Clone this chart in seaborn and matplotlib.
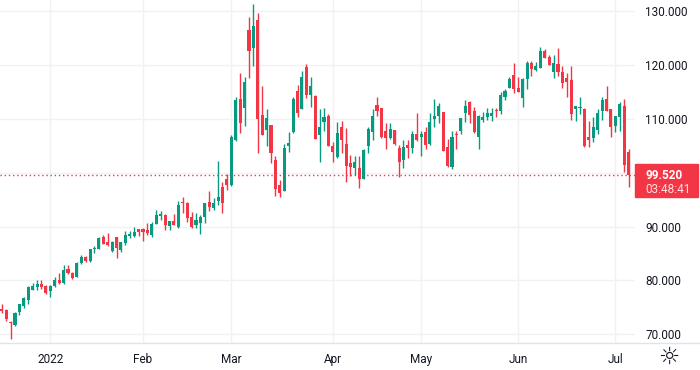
import numpy as np
import pandas as pd
import seaborn as sns
import matplotlib.pyplot as plt
from matplotlib.patches import Rectangle

# daily candles, 17 Dec 2021 -> 6 Jul 2022 (Good Friday closed)
opens = [74.6, 74.5, 72.3, 71.7, 74.2, 75.3, 76.3, 78.3, 78.8, 79.4, 79.0,
         78.1, 79.0, 80.0, 79.5, 82.1, 81.3, 80.7, 83.3, 84.3, 83.6, 85.8, 85.9, 88.1, 87.2, 85.5, 88.0, 85.6, 86.9, 88.3, 88.3, 89.5,
         89.5, 89.3, 88.4, 90.5, 91.9, 92.1, 90.1, 91.1, 90.0, 94.5, 94.4, 91.7, 90.3, 90.6, 91.8, 94.5, 93.4, 94.7, 97.3, 98.9,
         97.7, 106.1, 113.7, 112.0, 126.5, 123.2, 128.3, 110.7, 108.0, 108.8, 102.3, 97.7, 96.6, 105.0, 107.5, 115.1, 111.9, 119.6, 114.5, 114.2, 107.0, 109.4, 110.6,
         105.0, 102.9, 108.5, 105.4, 101.7, 100.9, 100.9, 98.9, 105.0, 107.6, 112.6, 112.0, 107.7, 106.5, 107.9, 104.6, 102.3, 105.2, 104.5, 107.1,
         106.6, 107.5, 105.3, 110.0, 110.5, 111.2, 104.7, 101.1, 107.1, 107.7, 111.1, 113.1, 111.4, 106.6, 109.7, 110.4, 110.6, 111.5, 111.4, 114.0, 115.8, 118.2, 115.8,
         113.9, 117.4, 120.4, 119.0, 119.5, 122.6, 121.5, 118.6, 120.2, 118.7, 117.5, 117.1, 111.8, 112.0, 111.9, 106.7, 106.5, 107.9, 111.5, 113.6, 111.8, 108.7,
         110.3, 112.4, 103.9]
highs = [75.6, 74.7, 72.5, 74.2, 75.7, 77.0, 78.9, 79.6, 80.0, 80.1, 79.1,
         79.1, 80.6, 81.3, 82.8, 82.9, 81.5, 83.4, 84.7, 84.5, 85.9, 86.3, 88.0, 88.5, 88.8, 87.4, 88.1, 87.2, 89.2, 89.2, 90.0, 89.6,
         89.8, 90.6, 90.9, 93.1, 92.9, 92.3, 91.1, 92.3, 94.7, 95.5, 94.6, 92.7, 92.6, 92.1, 94.4, 96.6, 95.3, 102.2, 98.2, 99.7,
         107.0, 114.0, 118.5, 117.7, 128.8, 131.3, 129.7, 116.1, 111.9, 108.9, 103.0, 98.6, 105.3, 107.5, 114.0, 116.2, 118.9, 120.2, 117.7, 114.4, 111.8, 112.0, 110.8,
         105.6, 109.4, 109.6, 108.3, 103.3, 103.0, 103.1, 104.4, 108.5, 111.8, 114.1, 112.0, 109.3, 109.3, 107.9, 105.1, 106.0, 106.0, 107.7, 111.0,
         107.7, 108.4, 111.0, 113.6, 112.9, 111.3, 106.3, 107.7, 107.7, 110.2, 113.5, 113.3, 112.1, 110.7, 111.2, 112.0, 112.0, 112.0, 115.0, 115.5, 117.7, 120.3, 117.8,
         117.5, 120.7, 120.7, 120.6, 123.3, 122.9, 121.9, 121.9, 123.2, 119.8, 118.4, 119.7, 112.4, 114.0, 112.0, 109.6, 110.4, 111.9, 114.0, 116.1, 111.9, 110.6,
         113.1, 113.6, 104.4]
lows = [74.0, 72.5, 69.2, 71.5, 73.6, 74.9, 75.6, 78.2, 78.3, 78.4, 77.5,
        77.0, 78.8, 79.4, 79.3, 81.2, 80.3, 80.6, 83.1, 83.4, 83.5, 85.1, 85.8, 86.7, 86.4, 85.2, 84.2, 85.3, 86.6, 87.9, 88.0, 88.2,
        87.4, 88.5, 88.0, 90.4, 91.2, 89.4, 89.4, 90.2, 89.8, 92.6, 90.9, 89.8, 89.8, 88.6, 90.7, 92.9, 93.0, 93.9, 92.6, 96.7,
        97.6, 105.9, 107.4, 108.6, 117.6, 119.8, 103.7, 106.9, 105.0, 101.7, 95.7, 95.4, 96.5, 103.8, 107.4, 110.4, 111.8, 113.9, 112.1, 106.2, 101.9, 107.8, 104.9,
        102.0, 102.8, 103.6, 98.3, 99.4, 99.6, 97.2, 98.8, 103.7, 106.1, 110.6, 106.4, 104.3, 106.2, 105.2, 99.2, 100.9, 102.8, 103.7, 105.9,
        103.0, 104.3, 105.2, 108.4, 109.3, 104.0, 101.1, 100.7, 104.3, 107.1, 109.4, 109.2, 107.4, 104.3, 109.4, 109.7, 109.5, 110.4, 110.8, 113.4, 115.7, 114.7, 114.9,
        112.1, 115.5, 117.9, 118.9, 119.4, 121.2, 119.9, 117.5, 117.9, 115.8, 114.0, 109.8, 109.6, 110.9, 104.8, 104.8, 105.6, 107.1, 109.8, 111.4, 106.7, 107.5,
        107.8, 100.1, 97.4]
closes = [74.4, 72.8, 72.0, 74.0, 75.6, 76.8, 78.7, 78.9, 79.4, 78.8, 77.7,
          79.0, 80.0, 79.6, 81.9, 81.3, 80.5, 83.2, 84.3, 83.6, 85.8, 86.0, 87.9, 86.8, 86.5, 87.1, 86.1, 87.1, 88.4, 88.6, 88.9, 88.9,
          88.9, 88.8, 90.5, 92.1, 92.3, 90.3, 91.0, 90.3, 93.9, 94.3, 91.6, 89.9, 91.2, 91.7, 94.3, 93.6, 94.4, 95.5, 94.3, 97.7,
          106.7, 113.5, 109.3, 116.8, 122.6, 127.3, 109.9, 107.0, 110.2, 103.6, 96.9, 96.2, 104.6, 105.5, 113.6, 111.1, 117.7, 114.5, 116.1, 106.3, 108.5, 110.3, 105.0,
          103.9, 107.3, 106.1, 101.2, 101.0, 102.0, 98.9, 104.2, 108.1, 110.5, 111.5, 106.6, 106.5, 108.1, 105.3, 102.0, 104.8, 104.5, 107.1, 106.0,
          107.1, 105.2, 109.4, 110.5, 112.3, 104.1, 101.2, 106.6, 106.9, 110.1, 112.3, 110.7, 107.5, 110.6, 110.4, 111.1, 111.1, 111.4, 114.4, 115.2, 117.4, 115.5, 115.0,
          117.4, 120.4, 119.2, 119.8, 122.6, 121.3, 120.0, 120.4, 118.6, 116.7, 116.9, 110.9, 112.3, 112.1, 105.0, 106.1, 108.4, 111.1, 113.5, 111.5, 108.4, 110.5,
          112.7, 101.4, 99.52]

last_price = "99.520"
countdown = "03:48:41"
price_ticks = [70, 80, 90, 100, 110, 120, 130]

dates = pd.bdate_range("2021-12-17", "2022-07-06")
dates = dates[dates != pd.Timestamp("2022-04-15")]
df = pd.DataFrame({"date": dates, "open": opens, "high": highs,
                   "low": lows, "close": closes})
df["x"] = np.arange(len(df))

up_col = "#089981"
down_col = "#f23645"
text_col = "#131722"

sns.set_theme(style="white", rc={"axes.edgecolor": "white"})
plt.rcParams["font.family"] = ["Roboto", "DejaVu Sans"]

fig = plt.figure(figsize=(7, 3.7), dpi=100)
ax = fig.add_axes([0, 27 / 370, 635 / 700, 343 / 370])

colors = np.where(df["close"] >= df["open"], up_col, down_col)
body_lo = np.minimum(df["open"], df["close"])
body_h = np.maximum(np.abs(df["close"] - df["open"]), 0.18)

ax.vlines(df["x"], df["low"], df["high"], colors=colors, linewidth=1, zorder=3)
ax.bar(df["x"], body_h, bottom=body_lo, width=0.7, color=colors,
       linewidth=0, zorder=4)

ax.axhline(closes[-1], color=down_col, linewidth=1, linestyle=(0, (1, 2)), zorder=5)

# month ticks at first bar of each month
first = df.groupby(df["date"].dt.to_period("M"))["x"].min()
first = first[first.index >= pd.Period("2022-01", "M")]
mlabels = ["2022" if p.month == 1 else p.strftime("%b") for p in first.index]
ax.set_xticks(first.values)
ax.set_xticklabels(mlabels)

ax.yaxis.tick_right()
ax.set_yticks(price_ticks)
ax.set_yticklabels(["" if t == 100 else f"{t:.3f}" for t in price_ticks])

ax.set_xlim(-0.4, len(df) + 0.45)
ax.set_ylim(68.38, 132.04)
ax.grid(True, color="#f0f1f4", linewidth=1)
ax.set_axisbelow(True)
ax.tick_params(axis="x", length=0, pad=7.5, labelsize=8.5, labelcolor=text_col)
ax.tick_params(axis="y", length=0, pad=7.5, labelsize=8.5, labelcolor=text_col)
for s in ax.spines.values():
    s.set_visible(False)

# bottom separator
fig.add_artist(plt.Line2D([0, 1], [1 - 343 / 370, 1 - 343 / 370],
                          transform=fig.transFigure, color="#e0e3eb", linewidth=1))

# last price label
fig.patches.append(Rectangle((635 / 700, 1 - 197 / 370), 63 / 700, 33 / 370,
                             transform=fig.transFigure, color=down_col, zorder=6))
fig.text(645 / 700, 1 - 175.5 / 370, last_price, color="white", fontsize=8.5,
         fontweight="bold", va="center", ha="left", zorder=7)
fig.text(645 / 700, 1 - 189.5 / 370, countdown, color="#ffe0e3", fontsize=8.5,
         va="center", ha="left", zorder=7)

fig.text(669 / 700, 1 - 357 / 370, "\u263c", color=text_col, fontsize=17,
         ha="center", va="center", family="DejaVu Sans")

fig.savefig("out.png", dpi=100)
